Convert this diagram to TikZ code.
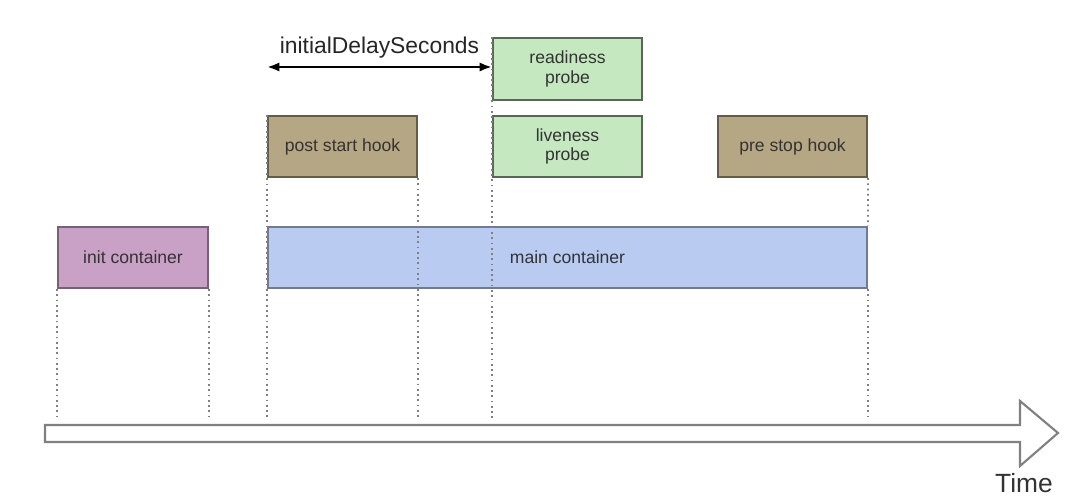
\documentclass[tikz,border=0pt]{standalone}
\usepackage{fontspec}
\setmainfont{Liberation Sans}
\usetikzlibrary{arrows.meta,positioning}
\definecolor{initfill}{HTML}{C9A0C6}
\definecolor{mainfill}{HTML}{BACBF2}
\definecolor{hookfill}{HTML}{B5A684}
\definecolor{probefill}{HTML}{C5E8C0}
\tikzset{
  box/.style={draw, line width=1.2pt, anchor=north west, minimum height=1.22cm,
    align=center, font=\fontsize{10}{11}\selectfont, text=black!80, inner sep=1pt},
  guide/.style={gray, dotted, line width=1pt}
}
\begin{document}
\begin{tikzpicture}[x=0.02cm, y=-0.02cm]
   \useasboundingbox (0,0) rectangle (1080,502);
   % boxes
   \node (init) [box, fill=initfill, draw=initfill!60!black, minimum width=3cm] at (57,226) {init container};
   \node (main) [box, fill=mainfill, draw=mainfill!60!black, minimum width=11.98cm] at (267,226) {main container};
   \node (post) [box, fill=hookfill, draw=hookfill!55!black, minimum width=2.98cm] at (267,115) {post start hook};
   \node (live) [box, fill=probefill, draw=probefill!45!black, minimum width=2.98cm] at (492,115) {liveness\\probe};
   \node (ready) [box, fill=probefill, draw=probefill!45!black, minimum width=2.98cm, minimum height=1.24cm] at (492,37) {readiness\\probe};
   \node (pre) [box, fill=hookfill, draw=hookfill!55!black, minimum width=2.98cm] at (717,115) {pre stop hook};
   % time axis
   \coordinate (axis) at (0,420);
   \draw [gray, line width=1.2pt, fill=white]
     (45,425) -- (1020,425) -- (1020,401) -- (1058,433) -- (1020,466) -- (1020,442) -- (45,442) -- cycle;
   \node (time) [font=\fontsize{15}{16}\selectfont, text=black!80] at (1024,483) {Time};
   % guides
   \draw [guide] (init.south west) -- (init.south west |- axis);
   \draw [guide] (init.south east) -- (init.south east |- axis);
   \draw [guide] (post.north west) -- (post.north west |- axis);
   \draw [guide] (post.south east) -- (post.south east |- axis);
   \draw [guide] (ready.north west) -- (ready.north west |- axis);
   \draw [guide] (main.south east) -- (main.south east |- axis);
   \draw [guide] (pre.south east) -- (main.north east);
   % delay
   \coordinate (d1) at (267,67);
   \coordinate (d2) at (492,67);
   \draw [{Latex[length=7pt]}-{Latex[length=7pt]}, line width=1.6pt] (d1) -- node[above=1pt, font=\fontsize{13}{14}\selectfont, text=black!85] (delay) {initialDelaySeconds} (d2);
\end{tikzpicture}
\end{document}
